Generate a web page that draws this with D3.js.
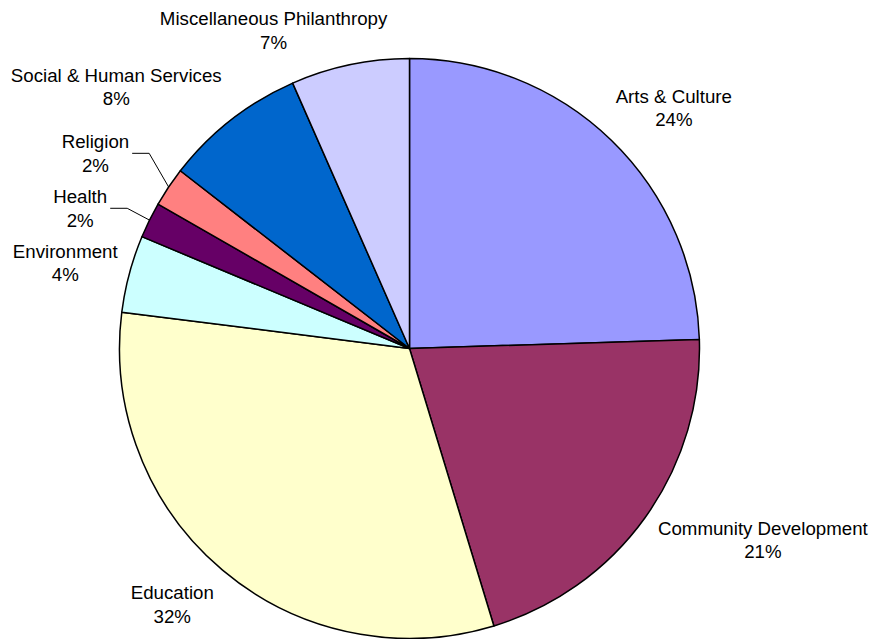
<!DOCTYPE html>
<html>
<head>
<meta charset="utf-8">
<script src="https://cdn.jsdelivr.net/npm/d3@7"></script>
<style>
  body { margin: 0; background: #fff; }
  .lbl { font-family: "Liberation Sans", Arial, sans-serif; font-size: 18.7px; fill: #000; }
</style>
</head>
<body>
<div id="piechart"></div>
<script>
// Giving by program area (share of total, %)
var categories = ["Arts & Culture", "Community Development", "Education", "Environment",
                  "Health", "Religion", "Social & Human Services", "Miscellaneous Philanthropy"];
var shares = [24.5, 20.8, 31.7, 4.3, 2.0, 2.2, 7.9, 6.6];
var pctLabels = ["24%", "21%", "32%", "4%", "2%", "2%", "8%", "7%"];
var colors = ["#9999FF", "#993366", "#FFFFCC", "#CCFFFF", "#660066", "#FF8080", "#0066CC", "#CCCCFF"];

// label nudges from the default outside placement, and which labels get leader lines
var labelNudge = [[-4, 0], [3, -8], [-1, 1.5], [0, 16], [-31.5, 17], [-29.5, -3.5], [-2, 0], [40, 1]];
var hasLeader = [false, false, false, false, true, true, false, false];

var width = 876, height = 639;
var cx = 409.5, cy = 348.5, radius = 290;
var lineH = 23.5;

var svg = d3.select("#piechart")
            .append("svg")
            .attr("width", width)
            .attr("height", height);

var pie = d3.pie().sort(null).value(function(d) { return d; });
var arcs = pie(shares);

var arcGen = d3.arc().innerRadius(0).outerRadius(radius);

var g = svg.append("g")
           .attr("transform", "translate(" + cx + "," + cy + ")");

g.selectAll("path")
 .data(arcs)
 .enter()
 .append("path")
 .attr("d", arcGen)
 .attr("fill", function(d, i) { return colors[i]; })
 .attr("stroke", "#000")
 .attr("stroke-width", 1.5)
 .attr("stroke-linejoin", "round");

//labels: put the box corner nearest the pie just outside the slice edge
arcs.forEach(function(a, i) {
    var mid = (a.startAngle + a.endAngle) / 2;
    var s = Math.sin(mid), c = Math.cos(mid);
    var px = (radius + 12) * s, py = -(radius + 12) * c;

    var lg = g.append("g").attr("class", "label");
    var t1 = lg.append("text").attr("class", "lbl").attr("text-anchor", "middle").attr("dy", "0.35em").text(categories[i]);
    var t2 = lg.append("text").attr("class", "lbl").attr("text-anchor", "middle").attr("dy", "0.35em").text(pctLabels[i]);
    var w = Math.max(t1.node().getComputedTextLength(), t2.node().getComputedTextLength());
    var h = lineH * 2;

    var x0 = s >= 0 ? px : px - w;
    var y0 = c >= 0 ? py - h : py;
    x0 += labelNudge[i][0];
    y0 += labelNudge[i][1];

    t1.attr("x", x0 + w / 2).attr("y", y0 + lineH / 2);
    t2.attr("x", x0 + w / 2).attr("y", y0 + lineH * 1.5);

    if (hasLeader[i]) {
        var sx = x0 + w + 3, sy = y0 + h / 2;
        var ex = radius * s, ey = -radius * c;
        g.append("polyline")
         .attr("points", [[sx, sy], [sx + 17, sy], [ex, ey]].map(function(p) { return p.join(","); }).join(" "))
         .attr("fill", "none")
         .attr("stroke", "#000")
         .attr("stroke-width", 1);
    }
});
</script>
</body>
</html>
